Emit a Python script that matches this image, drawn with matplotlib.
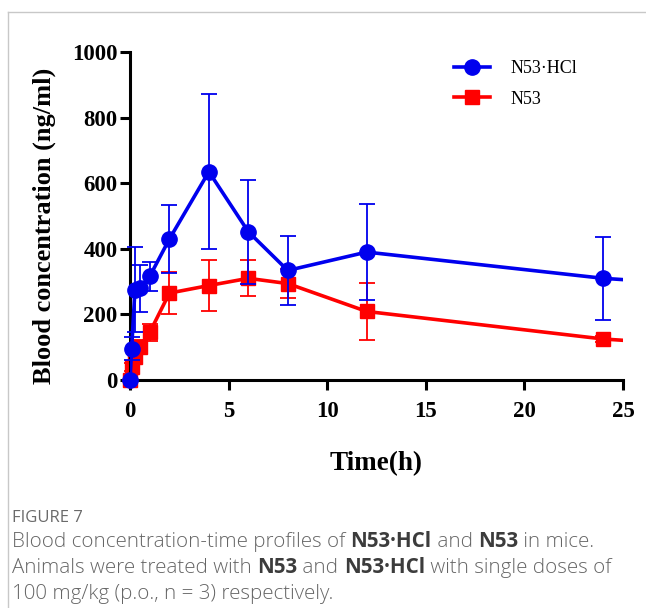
import matplotlib.pyplot as plt
import numpy as np
from matplotlib.lines import Line2D

# sampling times (h); the 48 h point lies past the axis and is only seen as the clipped line end
time_h = [0, 0.083, 0.25, 0.5, 1, 2, 4, 6, 8, 12, 24, 48]

hcl_mean = [0, 95, 275, 280, 316, 430, 635, 452, 334, 390, 310, 215]
hcl_sd = [0, 35, 130, 72, 45, 103, 236, 158, 105, 146, 126, 0]

base_mean = [0, 40, 70, 102, 145, 265, 288, 310, 294, 209, 125, 30]
base_sd = [0, 12, 15, 20, 25, 63, 77, 55, 45, 88, 10, 0]

x_ticks = [0, 5, 10, 15, 20, 25]
y_ticks = [0, 200, 400, 600, 800, 1000]

plt.rcParams['font.family'] = ['Liberation Serif', 'DejaVu Serif']

fig = plt.figure(figsize=(6.46, 6.08), dpi=100)
ax = fig.add_axes([130 / 646, 1 - 380 / 608, 493 / 646, 328 / 608])

n = len(time_h) - 1  # points that are drawn with markers

# lines first (clipped at x=25), then markers + error bars on top
ax.plot(time_h, hcl_mean, color="#0000ee", lw=2.6, zorder=3)
ax.plot(time_h, base_mean, color="#ff0000", lw=2.6, zorder=2)

eb1 = ax.errorbar(time_h[:n], base_mean[:n], yerr=base_sd[:n], fmt='s', ms=10,
                  color="#ff0000", ecolor="#ff0000", elinewidth=1.3, capsize=5.5,
                  capthick=1.3, zorder=2)
eb2 = ax.errorbar(time_h[:n], hcl_mean[:n], yerr=hcl_sd[:n], fmt='o', ms=11,
                  color="#0000ee", ecolor="#0000ee", elinewidth=1.3, capsize=5.5,
                  capthick=1.3, zorder=3)
for eb in (eb1, eb2):
    eb[0].set_clip_on(False)
    for c in eb[1]:
        c.set_clip_on(False)
    for b in eb[2]:
        b.set_clip_on(False)

ax.set_xlim(0, 25)
ax.set_ylim(0, 1000)
ax.set_xticks(x_ticks)
ax.set_yticks(y_ticks)

for s in ['top', 'right']:
    ax.spines[s].set_visible(False)
for s in ['left', 'bottom']:
    ax.spines[s].set_linewidth(2.2)
ax.tick_params(width=2.2, length=7, labelsize=16.5)
ax.tick_params(axis='x', pad=8)
ax.tick_params(axis='y', pad=2)
for lab in ax.get_xticklabels() + ax.get_yticklabels():
    lab.set_fontweight('bold')

ax.set_ylabel("Blood concentration (ng/ml)", fontsize=19, fontweight='bold')
ax.yaxis.set_label_coords(-0.15, 0.47)
ax.set_xlabel("Time(h)", fontsize=19.5, fontweight='bold', labelpad=21)

handles = [Line2D([], [], color="#0000ee", lw=2.6, marker='o', ms=11),
           Line2D([], [], color="#ff0000", lw=2.6, marker='s', ms=10)]
ax.legend(handles, ["N53·HCl", "N53"], loc='upper left', bbox_to_anchor=(0.625, 1.025),
          frameon=False, fontsize=13, handlelength=2.0, labelspacing=0.75, handletextpad=1.1)

# card border (top and left)
fig.add_artist(Line2D([8 / 646, 1], [1 - 12 / 608, 1 - 12 / 608], color="#c8c8c8", lw=1))
fig.add_artist(Line2D([8 / 646, 8 / 646], [0, 1 - 12 / 608], color="#c8c8c8", lw=1))

# caption
cap_font = ['Open Sans', 'DejaVu Sans']
fig.text(12 / 646, 1 - 522 / 608, "FIGURE 7", fontsize=12, color="#6a6a6a",
         family=cap_font, va='baseline')

lines = [
    [("Blood concentration-time profiles of ", 'light'), ("N53·HCl", 'bold'),
     (" and ", 'light'), ("N53", 'bold'), (" in mice.", 'light')],
    [("Animals were treated with ", 'light'), ("N53", 'bold'), (" and ", 'light'),
     ("N53·HCl", 'bold'), (" with single doses of", 'light')],
    [("100 mg/kg (p.o., n = 3) respectively.", 'light')],
]
baselines = [547, 573, 599]

fig.canvas.draw()
renderer = fig.canvas.get_renderer()
for parts, yb in zip(lines, baselines):
    x = 12
    for txt, w in parts:
        col = "#3c3c3c" if w == 'bold' else "#666666"
        t = fig.text(x / 646, 1 - yb / 608, txt, fontsize=14.8, color=col, weight=w,
                     family=cap_font, va='baseline')
        x += t.get_window_extent(renderer).width

fig.savefig("out.png", dpi=100)
